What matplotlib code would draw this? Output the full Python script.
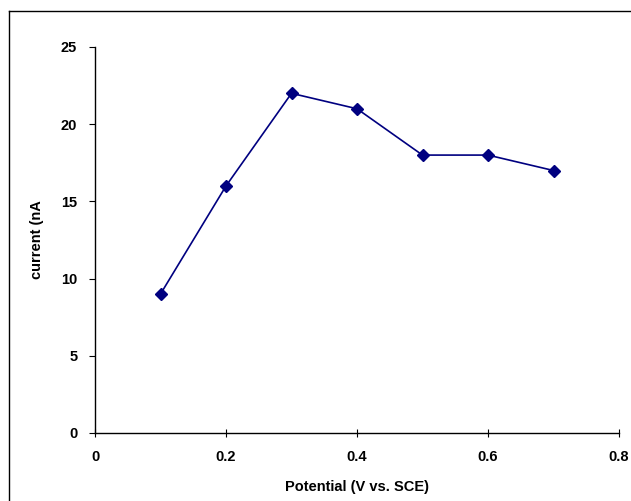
import matplotlib.pyplot as plt
from matplotlib.lines import Line2D

potential = [0.1, 0.2, 0.3, 0.4, 0.5, 0.6, 0.7]
current = [9, 16, 22, 21, 18, 18, 17]
xticks = [0, 0.2, 0.4, 0.6, 0.8]
xticklabels = ['0', '0.2', '0.4', '0.6', '0.8']
yticks = [0, 5, 10, 15, 20, 25]

plt.rcParams['font.family'] = ['Liberation Sans', 'DejaVu Sans']
plt.rcParams['font.weight'] = 'bold'

fig = plt.figure(figsize=(6.31, 5.01), dpi=100)
# chart area border (only left and top edges fall inside the image)
x0, ytop = 8.5 / 631, 1 - 10.5 / 501
fig.lines.append(Line2D([x0, x0], [0, ytop], transform=fig.transFigure,
                        color='black', linewidth=1.0))
fig.lines.append(Line2D([x0, 1], [ytop, ytop], transform=fig.transFigure,
                        color='black', linewidth=1.0))

ax = fig.add_axes([95 / 631, 1 - 433 / 501, 524 / 631, 386 / 501])
ax.plot(potential, current, color='#000080', linewidth=1.2,
        marker='D', markersize=6, markerfacecolor='#000080',
        markeredgecolor='#000080')

ax.set_xlim(0, 0.8)
ax.set_ylim(0, 25)
ax.set_xticks(xticks)
ax.set_xticklabels(xticklabels)
ax.set_yticks(yticks)
for s in ['top', 'right']:
    ax.spines[s].set_visible(False)
for s in ['left', 'bottom']:
    ax.spines[s].set_linewidth(1.0)
ax.tick_params(axis='x', direction='inout', length=6, pad=9, labelsize=10.5)
ax.tick_params(axis='y', direction='out', length=4.3, pad=8.5, labelsize=10.5)

ax.set_xlabel('Potential (V vs. SCE)', fontsize=10.5, fontweight='bold', labelpad=12)
ax.set_ylabel('current (nA', fontsize=10.5, fontweight='bold', labelpad=12)

fig.savefig('out.png', dpi=100)
